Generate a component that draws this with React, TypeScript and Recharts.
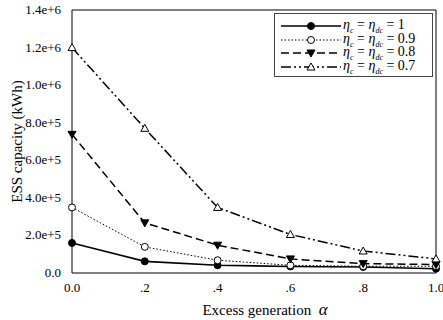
import { LineChart, Line, XAxis, YAxis, ReferenceLine } from "recharts"

const alphas = [0, 0.2, 0.4, 0.6, 0.8, 1.0]
const xTickLabels = ["0.0", ".2", ".4", ".6", ".8", "1.0"]
const yTicks = [0, 200000, 400000, 600000, 800000, 1000000, 1200000, 1400000]
const yTickLabels = ["0.0", "2.0e+5", "4.0e+5", "6.0e+5", "8.0e+5", "1.0e+6", "1.2e+6", "1.4e+6"]

const eff100 = [160000, 62000, 41000, 35000, 32000, 23000]
const eff90 = [349000, 139000, 68000, 41000, 36000, 36000]
const eff80 = [738000, 267000, 148000, 75000, 50000, 45000]
const eff70 = [1200000, 770000, 349000, 205000, 117000, 75000]

const effLabels = ["1", "0.9", "0.8", "0.7"]

const rows = alphas.map((a, i) => ({
  a,
  e100: eff100[i],
  e90: eff90[i],
  e80: eff80[i],
  e70: eff70[i],
}))

const font = "Liberation Serif"

const FilledCircle = (p: any) => <circle cx={p.cx} cy={p.cy} r={3.5} fill="#000" stroke="#000" />
const OpenCircle = (p: any) => <circle cx={p.cx} cy={p.cy} r={3.5} fill="#fff" stroke="#000" strokeWidth={1} />
const DownTri = (p: any) => (
  <path d={`M${p.cx - 4},${p.cy - 3} L${p.cx + 4},${p.cy - 3} L${p.cx},${p.cy + 4} Z`} fill="#000" stroke="#000" />
)
const UpTri = (p: any) => (
  <path d={`M${p.cx - 4},${p.cy + 3} L${p.cx + 4},${p.cy + 3} L${p.cx},${p.cy - 4} Z`} fill="#fff" stroke="#000" strokeWidth={1} />
)

const series = [
  { key: "e100", dash: undefined, width: 1.6, dot: FilledCircle },
  { key: "e90", dash: "1.5 2", width: 1, dot: OpenCircle },
  { key: "e80", dash: "8 4", width: 1.5, dot: DownTri },
  { key: "e70", dash: "10 3 2 3 2 3", width: 1.5, dot: UpTri },
]

const XTick = (p: any) => (
  <text x={p.x} y={p.y} dy={9} textAnchor="middle" fontFamily={font} fontSize={13} fill="#000">
    {xTickLabels[alphas.indexOf(p.payload.value)]}
  </text>
)
const YTick = (p: any) => (
  <text x={p.x} y={p.y} dy={4} textAnchor="end" fontFamily={font} fontSize={13} fill="#000">
    {yTickLabels[yTicks.indexOf(p.payload.value)]}
  </text>
)

function LegendBox() {
  return (
    <div
      style={{
        position: "absolute",
        left: 274,
        top: 13,
        width: 159,
        height: 64,
        border: "1px solid #444",
        background: "#fff",
        fontFamily: font,
        fontSize: 14,
        boxSizing: "border-box",
        paddingTop: 5,
      }}
    >
      {series.map((s, i) => {
        const D = s.dot
        return (
          <div key={s.key} style={{ display: "flex", alignItems: "center", height: 13.7 }}>
            <svg width={64} height={14} style={{ marginLeft: 4 }}>
              <line x1={2} y1={7} x2={62} y2={7} stroke="#000" strokeWidth={s.width} strokeDasharray={s.dash} />
              <D cx={32} cy={7} />
            </svg>
            <span style={{ whiteSpace: "nowrap" }}>
              <i>η</i>
              <sub style={{ fontSize: 8, fontStyle: "italic" }}>c</sub> = <i>η</i>
              <sub style={{ fontSize: 8, fontStyle: "italic" }}>dc</sub> = {effLabels[i]}
            </span>
          </div>
        )
      })}
    </div>
  )
}

export default function App() {
  return (
    <div style={{ position: "absolute", left: 0, top: 0, width: 443, height: 320, background: "#fff", fontFamily: font }}>
      <LineChart width={443} height={320} data={rows} margin={{ top: 10, right: 7, left: 0, bottom: 0 }}>
        <XAxis
          dataKey="a"
          type="number"
          domain={[0, 1]}
          ticks={alphas}
          tickLine={false}
          axisLine={{ stroke: "#000", strokeWidth: 1 }}
          height={47}
          tick={XTick}
          tickMargin={4}
        />
        <YAxis
          type="number"
          domain={[0, 1400000]}
          ticks={yTicks}
          tickLine={false}
          axisLine={{ stroke: "#000", strokeWidth: 1 }}
          width={72}
          tick={YTick}
          tickMargin={5}
          label={{
            value: "ESS capacity (kWh)",
            angle: -90,
            position: "insideLeft",
            offset: 17,
            style: { fill: "#000", fontSize: 15, fontFamily: font, textAnchor: "middle" },
          }}
        />
        <ReferenceLine y={1400000} stroke="#000" strokeWidth={1} />
        <ReferenceLine x={1} stroke="#000" strokeWidth={1} />
        {series.map((s) => (
          <Line
            key={s.key}
            dataKey={s.key}
            type="linear"
            stroke="#000"
            strokeWidth={s.width}
            strokeDasharray={s.dash}
            dot={s.dot}
            activeDot={false}
            isAnimationActive={false}
          />
        ))}
      </LineChart>
      <div
        style={{
          position: "absolute",
          left: 0,
          width: 530,
          top: 300,
          textAlign: "center",
          fontSize: 15,
          fontFamily: font,
          whiteSpace: "pre",
        }}
      >
        Excess generation  <i style={{ fontSize: 17 }}>α</i>
      </div>
      <LegendBox />
    </div>
  )
}
